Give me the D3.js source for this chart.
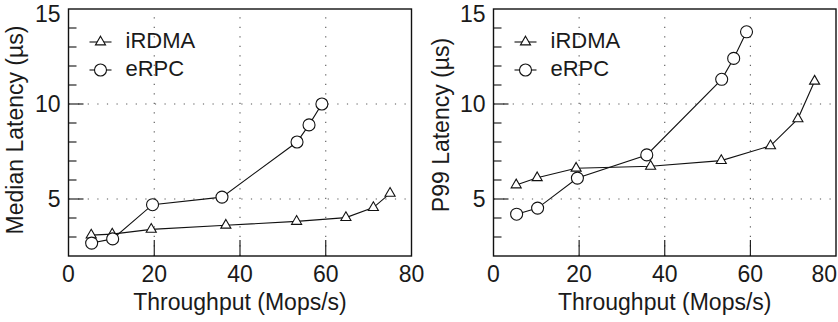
<!DOCTYPE html>
<html>
<head>
<meta charset="utf-8">
<script src="https://cdn.jsdelivr.net/npm/d3@7"></script>
<style>
  html, body { margin: 0; padding: 0; background: #fff; }
  svg { display: block; }
  text { font-family: "Liberation Sans", Arial, Helvetica, sans-serif; fill: #1a1a1a; }
</style>
</head>
<body>
<svg id="chart" width="838" height="322"></svg>
<script>
// ---- data ----
const seriesNames = ["iRDMA", "eRPC"];
const throughputIRDMA = [5.3, 10.2, 19.3, 36.7, 53.2, 64.7, 71.1, 75.0];
const throughputERPC  = [5.4, 10.3, 19.6, 35.8, 53.3, 56.1, 59.1];
const medianIRDMA = [3.1, 3.15, 3.4, 3.62, 3.82, 4.02, 4.55, 5.3];
const medianERPC  = [2.68, 2.9, 4.7, 5.1, 8.0, 8.9, 10.0];
const p99IRDMA = [5.74, 6.12, 6.62, 6.72, 7.02, 7.8, 9.22, 11.2];
const p99ERPC  = [4.2, 4.52, 6.1, 7.32, 11.3, 12.4, 13.8];
const xTicks = [0, 20, 40, 60, 80];
const yMajorTicks = [5, 10, 15];
const yMinorTicks = [3, 4, 6, 7, 8, 9, 11, 12, 13, 14];
const xTitle = "Throughput (Mops/s)";
const panelTitles = ["Median Latency (µs)", "P99 Latency (µs)"];

// ---- layout ----
const svg = d3.select("#chart");
const panels = [
  { left: 68.5, right: 411.5, ylabel: panelTitles[0], ylabelY: 130, ylabelX: 23,
    series: [medianIRDMA, medianERPC] },
  { left: 493.5, right: 836, ylabel: panelTitles[1], ylabelY: 125, ylabelX: 449,
    series: [p99IRDMA, p99ERPC] }
];
const plotTop = 9, plotBottom = 256;
const fs = 23;

const triangle = d3.symbol().type(d3.symbolTriangle).size(44);

panels.forEach((p, pi) => {
  const x = d3.scaleLinear().domain([0, 80]).range([p.left, p.right]);
  const y = d3.scaleLinear().domain([2, 15]).range([plotBottom, plotTop]);
  const g = svg.append("g");

  // dotted grid
  g.selectAll(".vg").data(xTicks.filter(t => t > 0 && t < 80)).enter().append("line")
    .attr("x1", d => x(d)).attr("x2", d => x(d)).attr("y1", plotBottom).attr("y2", plotTop)
    .attr("stroke", "#555").attr("stroke-width", 1.1).attr("stroke-dasharray", "1.2,8.3");
  g.selectAll(".hg").data(yMajorTicks.filter(t => t < 15)).enter().append("line")
    .attr("x1", p.left).attr("x2", p.right).attr("y1", d => y(d)).attr("y2", d => y(d))
    .attr("stroke", "#555").attr("stroke-width", 1.1).attr("stroke-dasharray", "1.2,8.4");

  // ticks (inward)
  g.selectAll(".xt").data(xTicks.filter(t => t > 0 && t < 80)).enter().append("line")
    .attr("x1", d => x(d)).attr("x2", d => x(d)).attr("y1", plotBottom).attr("y2", plotBottom - 16)
    .attr("stroke", "#111").attr("stroke-width", 1.1);
  g.selectAll(".ytm").data(yMajorTicks.filter(t => t < 15)).enter().append("line")
    .attr("x1", p.left).attr("x2", p.left + 15).attr("y1", d => y(d)).attr("y2", d => y(d))
    .attr("stroke", "#111").attr("stroke-width", 1.1);
  g.selectAll(".ytn").data(yMinorTicks).enter().append("line")
    .attr("x1", p.left).attr("x2", p.left + 8).attr("y1", d => y(d)).attr("y2", d => y(d))
    .attr("stroke", "#111").attr("stroke-width", 1.1);

  // frame
  g.append("rect").attr("x", p.left).attr("y", plotTop)
    .attr("width", p.right - p.left).attr("height", plotBottom - plotTop)
    .attr("fill", "none").attr("stroke", "#111").attr("stroke-width", 1.4);

  // tick labels
  g.selectAll(".xl").data(xTicks).enter().append("text")
    .attr("x", d => (pi === 1 && d === 80) ? x(d) + 1 : x(d))
    .attr("y", 281.5)
    .attr("text-anchor", d => (pi === 1 && d === 80) ? "end" : "middle")
    .attr("font-size", fs).text(d => d);
  g.selectAll(".yl").data(yMajorTicks).enter().append("text")
    .attr("x", p.left - 8)
    .attr("y", d => Math.max(y(d) + 0.36 * fs, 21.5))
    .attr("text-anchor", "end").attr("font-size", fs).text(d => d);

  // axis titles
  g.append("text").attr("x", (p.left + p.right) / 2).attr("y", 310)
    .attr("text-anchor", "middle").attr("font-size", fs).text(xTitle);
  g.append("text")
    .attr("transform", `translate(${p.ylabelX},${p.ylabelY}) rotate(-90)`)
    .attr("text-anchor", "middle").attr("font-size", fs).text(p.ylabel);

  // series
  const xsArr = [throughputIRDMA, throughputERPC];
  const line = d3.line().x(d => x(d[0])).y(d => y(d[1]));
  p.series.forEach((vals, si) => {
    const pts = vals.map((v, i) => [xsArr[si][i], v]);
    g.append("path").datum(pts).attr("d", line)
      .attr("fill", "none").attr("stroke", "#111").attr("stroke-width", 1.1);
    if (si === 0) {
      g.selectAll(null).data(pts).enter().append("path")
        .attr("d", triangle)
        .attr("transform", d => `translate(${x(d[0])},${y(d[1])})`)
        .attr("fill", "#fff").attr("stroke", "#111").attr("stroke-width", 1.1);
    } else {
      g.selectAll(null).data(pts).enter().append("circle")
        .attr("cx", d => x(d[0])).attr("cy", d => y(d[1])).attr("r", 6)
        .attr("fill", "#fff").attr("stroke", "#111").attr("stroke-width", 1.1);
    }
  });

  // legend
  const legY = [42, 70];
  seriesNames.forEach((name, si) => {
    const lx = p.left + 21;
    g.append("line").attr("x1", lx).attr("x2", lx + 22).attr("y1", legY[si]).attr("y2", legY[si])
      .attr("stroke", "#111").attr("stroke-width", 1.1);
    if (si === 0) {
      g.append("path").attr("d", triangle)
        .attr("transform", `translate(${lx + 11},${legY[si]})`)
        .attr("fill", "#fff").attr("stroke", "#111").attr("stroke-width", 1.1);
    } else {
      g.append("circle").attr("cx", lx + 11).attr("cy", legY[si]).attr("r", 6)
        .attr("fill", "#fff").attr("stroke", "#111").attr("stroke-width", 1.1);
    }
    g.append("text").attr("x", p.left + 57).attr("y", legY[si] + 6.3)
      .attr("font-size", 22).text(name);
  });
});
</script>
</body>
</html>
